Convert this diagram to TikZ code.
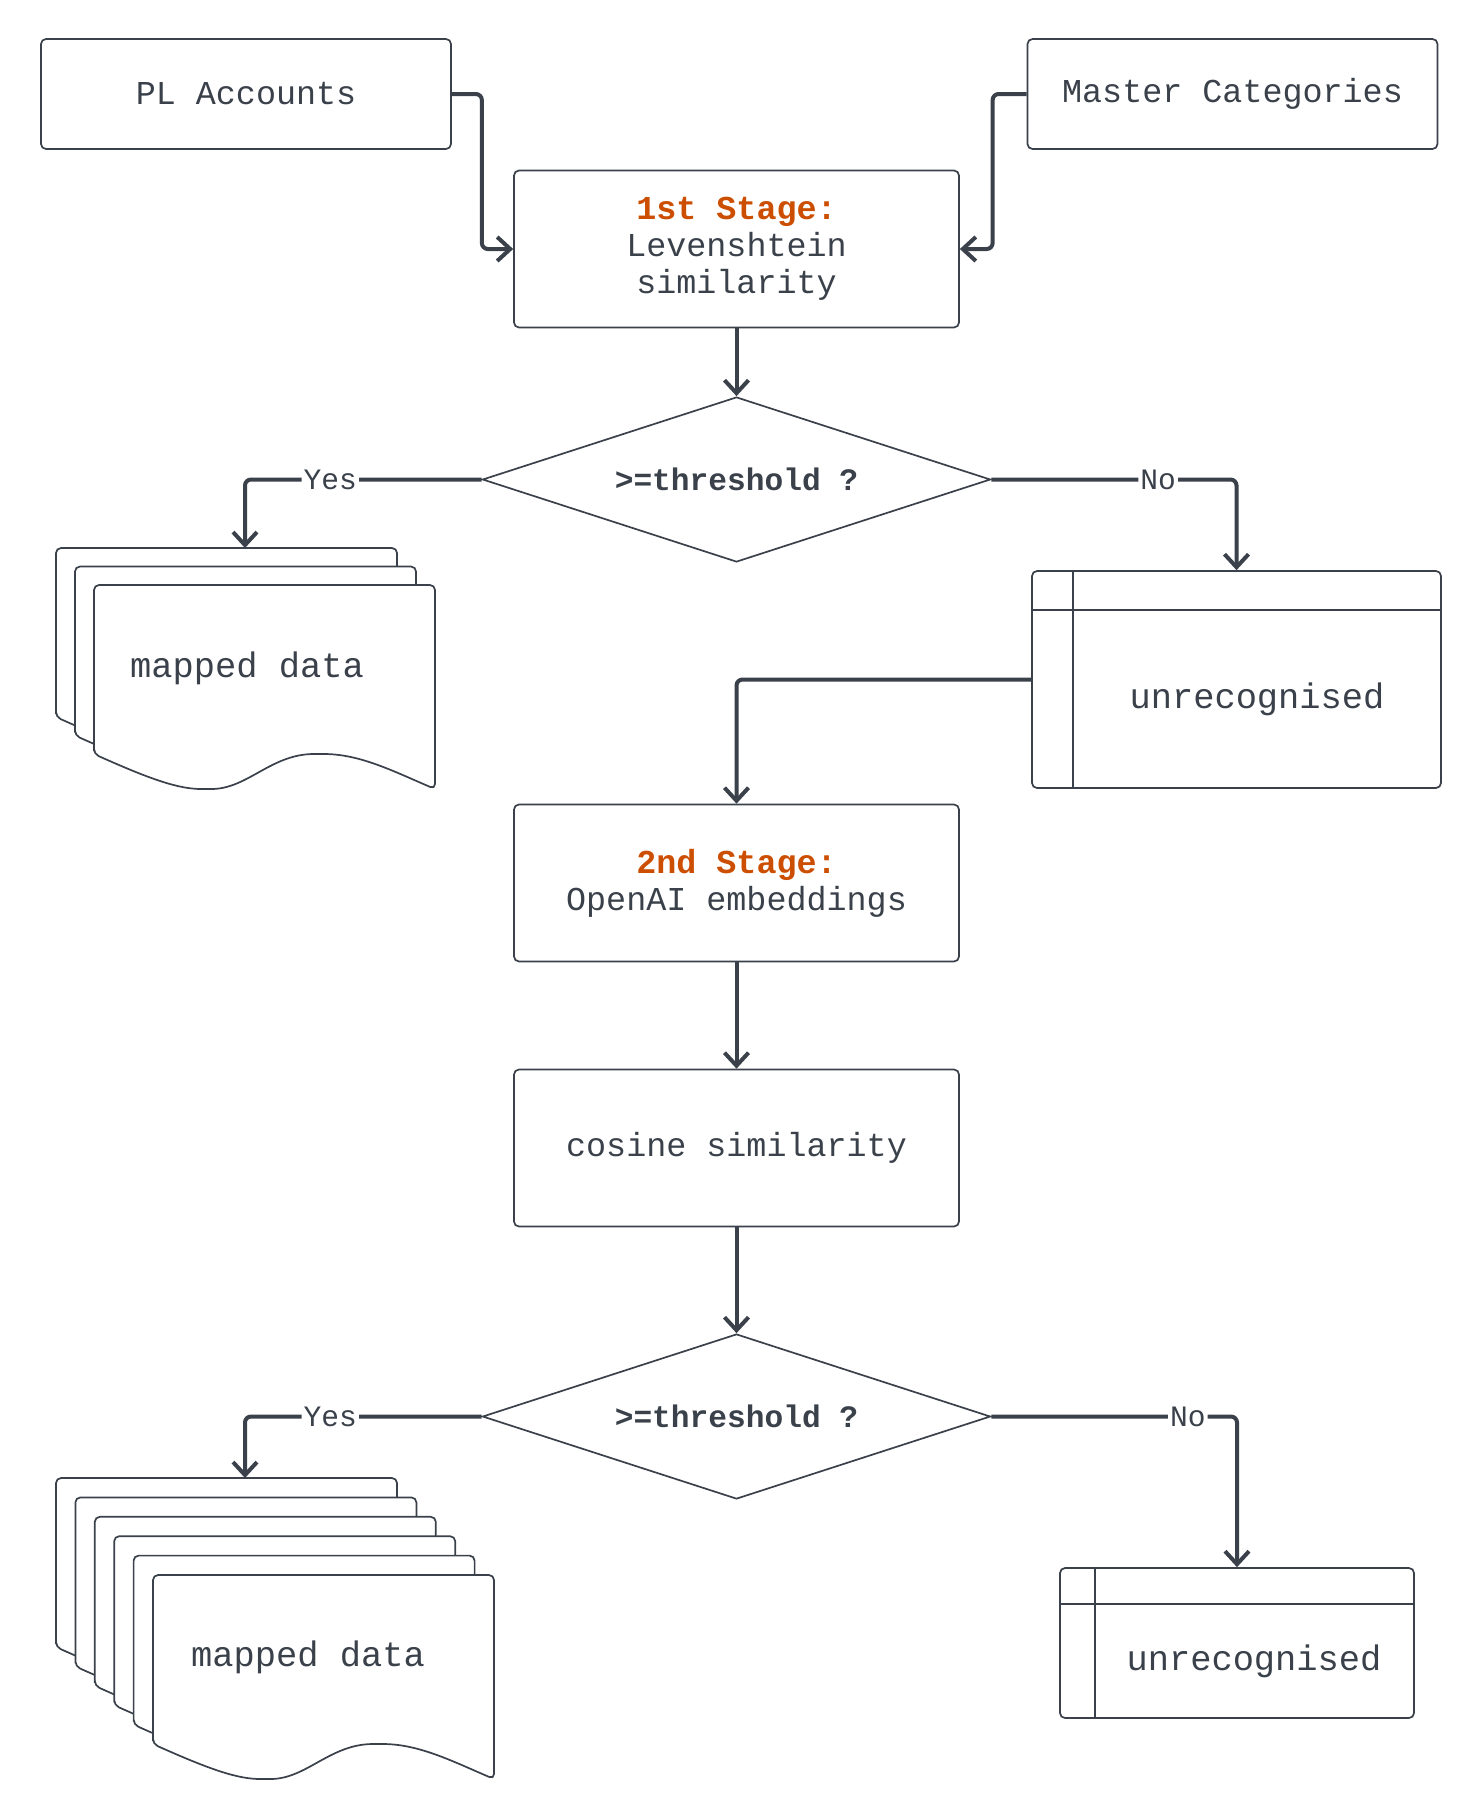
\documentclass[tikz,border=0pt]{standalone}
\usepackage{fontspec}
\setmonofont{Liberation Mono}
\usetikzlibrary{arrows.meta,shapes.geometric}

\definecolor{ink}{HTML}{3A414A}
\definecolor{stageorange}{HTML}{CC4E00}

\tikzset{
    outline/.style={draw=ink, line width=0.85pt},
    box/.style={outline, rounded corners=2.5pt, text=ink, align=center,
        font=\ttfamily\fontsize{16.7}{18.6}\selectfont},
    stagebox/.style={box, minimum width=222.5pt, minimum height=78.5pt},
    inbox/.style={box, minimum width=205pt, minimum height=55pt},
    decision/.style={outline, diamond, aspect=3, inner sep=0pt, minimum width=254pt,
        minimum height=82.5pt, text=ink, font=\ttfamily\bfseries\fontsize{15.6}{17}\selectfont},
    store/.style={outline, rounded corners=2.5pt},
    bigtxt/.style={text=ink, font=\ttfamily\fontsize{17.7}{19}\selectfont},
    conn/.style={draw=ink, line width=2pt, rounded corners=3pt,
        -{Straight Barb[length=6.5pt,width=12pt]}},
    lbl/.style={fill=white, text=ink, inner sep=1pt, font=\ttfamily\fontsize{14.8}{16}\selectfont},
    sheetline/.style={outline, fill=white, rounded corners=2.5pt}
}

% one page of a document stack, top left corner at (#1,#2)
\newcommand{\docsheet}[2]{
    \filldraw[sheetline] ({#1},{#2+169}) -- ({#1},{#2}) -- ({#1+341},{#2}) -- ({#1+341},{#2+204})
        .. controls ({#1+300},{#2+186.5}) and ({#1+266},{#2+169}) .. ({#1+225},{#2+169})
        .. controls ({#1+177},{#2+169}) and ({#1+153.5},{#2+204}) .. ({#1+112.5},{#2+204})
        .. controls ({#1+85},{#2+204}) and ({#1+58},{#2+195}) .. ({#1},{#2+169}) -- cycle;
}

\begin{document}
\begin{tikzpicture}[x=0.5pt, y=-0.5pt]
    \useasboundingbox (0,0) rectangle (1482,1820);

    % Inputs and first stage
    \node[inbox] (pl) at (246,94) {PL Accounts};
    \node[inbox] (mc) at (1232.5,94) {Master Categories};
    \node[stagebox] (s1) at (736.5,249)
        {\textcolor{stageorange}{\bfseries 1st Stage:}\\Levenshtein\\similarity};
    \node[decision] (d1) at (736.5,479.5) {>=threshold ?};

    % Results of first stage
    \foreach \k in {0,1,2} {
        \docsheet{56+19*\k}{548+18.5*\k}
    }
    \node[bigtxt] (map1) at (247,668) {mapped data};
    \coordinate (map1in) at (245,548);

    \node[store, minimum width=204.5pt, minimum height=108.5pt] (u1) at (1236.5,679.5) {};
    \draw[outline] (1032,610) -- (1441,610) (1073,571) -- (1073,788);
    \node[bigtxt] (u1txt) at (1257,699) {unrecognised};

    % Second stage
    \node[stagebox] (s2) at (736.5,883)
        {\textcolor{stageorange}{\bfseries 2nd Stage:}\\OpenAI embeddings};
    \node[stagebox] (cs) at (736.5,1148) {cosine similarity};
    \node[decision] (d2) at (736.5,1416.5) {>=threshold ?};

    % Results of second stage
    \foreach \k in {0,...,5} {
        \docsheet{56+19.4*\k}{1478+19.4*\k}
    }
    \node[bigtxt] (map2) at (308,1657) {mapped data};
    \coordinate (map2in) at (245,1478);

    \node[store, minimum width=177pt, minimum height=75pt] (u2) at (1237,1643) {};
    \draw[outline] (1060,1604) -- (1414,1604) (1095,1568) -- (1095,1718);
    \node[bigtxt] (u2txt) at (1254,1661) {unrecognised};

    % Connectors
    \draw[conn] (pl.east) -- ++(30,0) |- (s1.west);
    \draw[conn] (mc.west) -- ++(-34,0) |- (s1.east);
    \draw[conn] (s1.south) -- (d1.north);
    \draw[conn] (d1.west) -| node[lbl, pos=0.32] {Yes} (map1in);
    \draw[conn] (d1.east) -| node[lbl, pos=0.34] {No} (u1.north);
    \draw[conn] (u1.west) -| (s2.north);
    \draw[conn] (s2.south) -- (cs.north);
    \draw[conn] (cs.south) -- (d2.north);
    \draw[conn] (d2.west) -| node[lbl, pos=0.32] {Yes} (map2in);
    \draw[conn] (d2.east) -| node[lbl, pos=0.40] {No} (u2.north);
\end{tikzpicture}
\end{document}
